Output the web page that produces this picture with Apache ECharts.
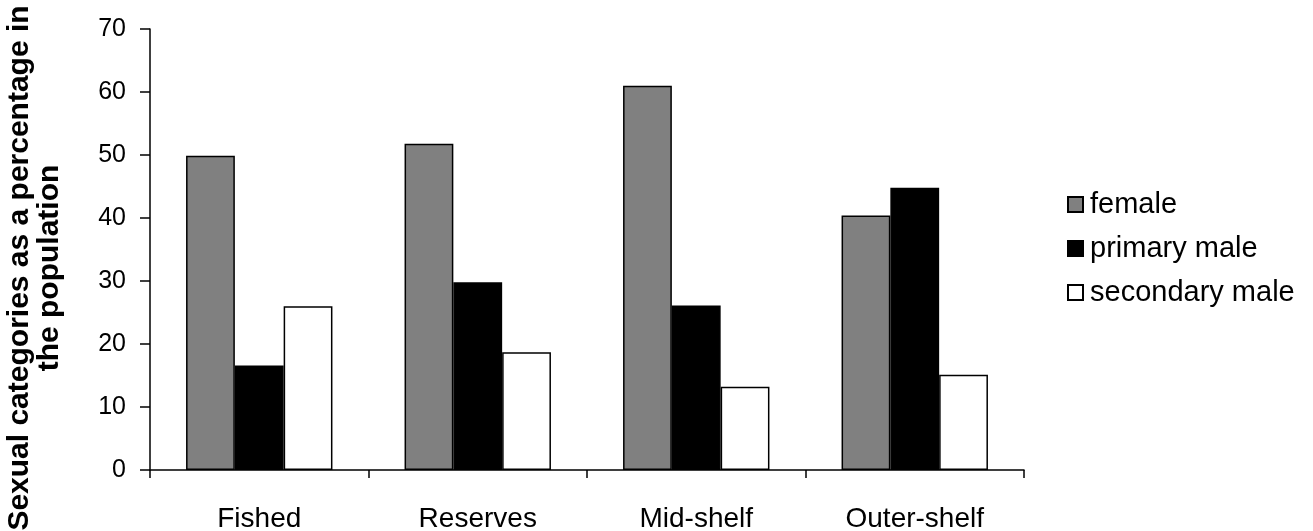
<!DOCTYPE html>
<html>
<head>
<meta charset="utf-8">
<script src="https://cdn.jsdelivr.net/npm/echarts@6/dist/echarts.min.js"></script>
<style>
  html, body { margin: 0; padding: 0; background: #fff; }
  #chart { width: 1313px; height: 531px; }
</style>
</head>
<body>
<div id="chart"></div>
<script>
// Habitat categories along the x axis
const categories = ['Fished', 'Reserves', 'Mid-shelf', 'Outer-shelf'];

// Percentage of each sexual category per habitat
const female = [49.9, 51.8, 61.0, 40.4];
const primaryMale = [16.6, 29.8, 26.1, 44.8];
const secondaryMale = [26.0, 18.7, 13.2, 15.1];

const yTicks = { min: 0, max: 70, interval: 10 };

const FONT = '"Liberation Sans", Arial, sans-serif';

const chart = echarts.init(document.getElementById('chart'), null, { renderer: 'canvas' });

function barSeries(name, data, color) {
  return {
    name: name,
    type: 'bar',
    data: data,
    barGap: '0%',
    barCategoryGap: '33%',
    itemStyle: { color: color, borderColor: '#000', borderWidth: 1.5 },
    emphasis: { disabled: true }
  };
}

chart.setOption({
  animation: false,
  backgroundColor: '#fff',
  grid: {
    left: 150, top: 29, right: 289, bottom: 61,
    containLabel: false,
    outerBoundsMode: 'none'
  },
  legend: {
    orient: 'vertical',
    left: 1062,
    top: 185,
    itemWidth: 15,
    itemHeight: 15,
    itemGap: 15,
    icon: 'rect',
    textStyle: { fontFamily: FONT, fontSize: 29, color: '#000', padding: [0, 0, 0, 2] },
    data: ['female', 'primary male', 'secondary male']
  },
  xAxis: {
    type: 'category',
    data: categories,
    axisLine: { lineStyle: { color: '#000', width: 1.5 } },
    axisTick: { show: true, length: 8, lineStyle: { color: '#000', width: 1.5 } },
    axisLabel: { color: '#000', fontFamily: FONT, fontSize: 28, margin: 35 },
    splitLine: { show: false }
  },
  yAxis: {
    type: 'value',
    min: yTicks.min,
    max: yTicks.max,
    interval: yTicks.interval,
    name: 'Sexual categories as a percentage in\nthe population',
    nameLocation: 'middle',
    nameRotate: 90,
    nameGap: 85,
    nameTextStyle: {
      fontFamily: FONT, fontSize: 30, fontWeight: 'bold', color: '#000',
      lineHeight: 30, align: 'center', padding: [0, 37, 0, 0]
    },
    axisLine: { show: true, lineStyle: { color: '#000', width: 1.5 } },
    axisTick: { show: true, length: 10, lineStyle: { color: '#000', width: 1.5 } },
    axisLabel: { color: '#000', fontFamily: FONT, fontSize: 25, margin: 24 },
    splitLine: { show: false }
  },
  series: [
    barSeries('female', female, '#808080'),
    barSeries('primary male', primaryMale, '#000000'),
    barSeries('secondary male', secondaryMale, '#ffffff')
  ]
});
</script>
</body>
</html>
